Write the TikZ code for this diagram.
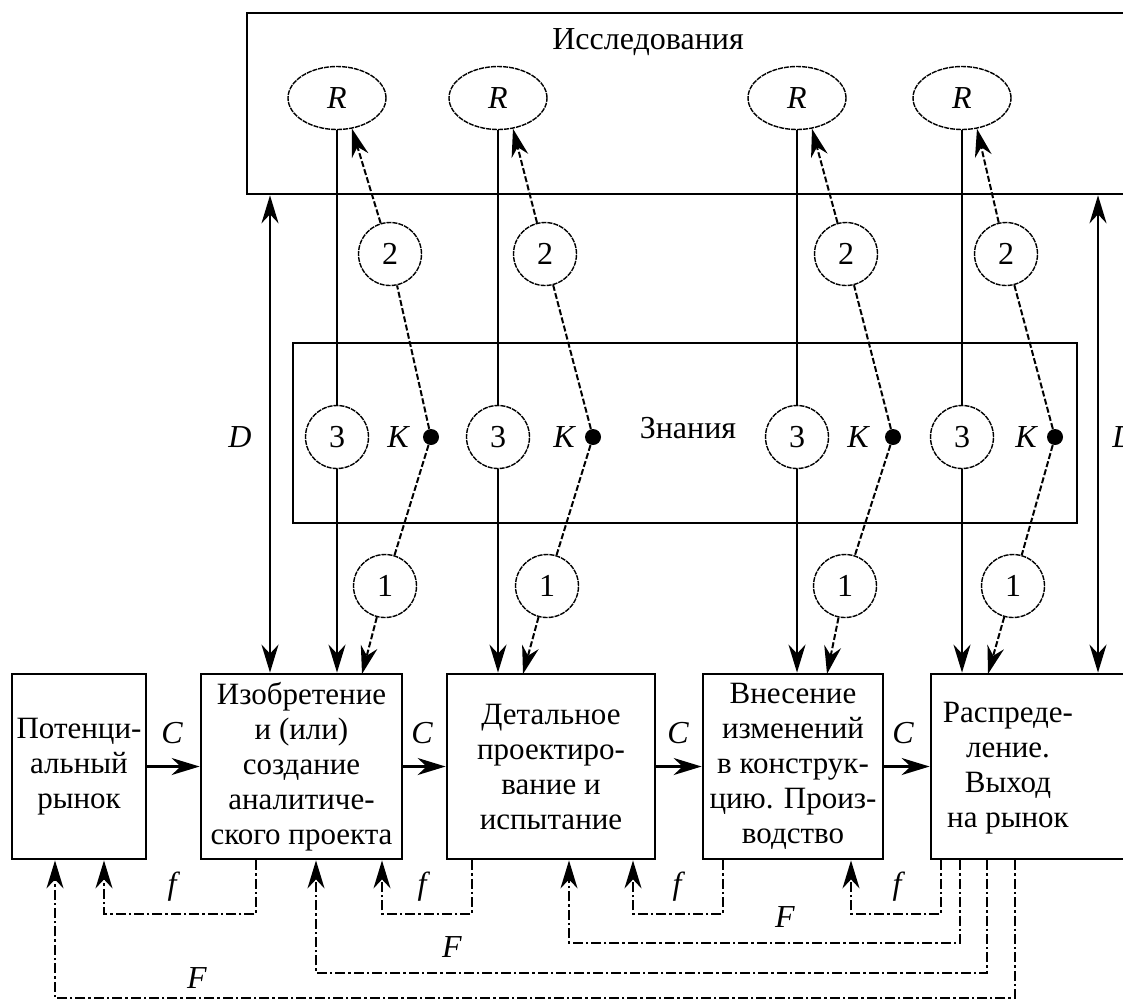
\documentclass[tikz,border=0pt]{standalone}
\usepackage{fontspec}
\setmainfont{Liberation Serif}
\usetikzlibrary{arrows.meta,shapes.geometric}
\begin{document}
\begin{tikzpicture}[x=0.5pt,y=-0.5pt,
  >={Stealth[length=14pt,width=8.5pt,inset=4.5pt]},
  every node/.style={inner sep=0pt},
  stage/.style={draw,line width=1.4pt,minimum height=92.5pt,align=center,font=\fontsize{15.5}{17.5}\selectfont},
  stagetext/.style={align=center,font=\fontsize{15.5}{17.5}\selectfont},
  area/.style={draw,line width=1.3pt},
  rnode/.style={ellipse,draw,line width=0.7pt,dash pattern=on 2.5pt off 0.5pt,minimum width=49pt,minimum height=31.5pt,font=\fontsize{16}{18}\selectfont\itshape},
  num/.style={circle,draw,line width=0.7pt,dash pattern=on 2.5pt off 0.5pt,minimum size=31.5pt,font=\fontsize{16}{18}\selectfont},
  kdot/.style={circle,fill,minimum size=8pt},
  lbl/.style={font=\fontsize{16}{18}\selectfont\itshape},
  ttl/.style={font=\fontsize{16}{18}\selectfont},
  ln/.style={line width=1.2pt},
  dsh/.style={line width=1pt,dash pattern=on 3pt off 1.2pt},
  fb/.style={line width=1.1pt,dash pattern=on 5pt off 1.5pt on 1.2pt off 1.5pt},
]
\useasboundingbox (0,0) rectangle (1123,1003);
\clip (0,0) rectangle (1123,1003);

% areas
\node[area,minimum width=456.5pt,minimum height=90.5pt] (res) at (703.5,103.5) {};
\node[ttl] (restitle) at (648,42) {Исследования};
\node[area,minimum width=392pt,minimum height=90pt] (know) at (685,433) {};
\node[ttl] (knowtitle) at (688,428) {Знания};

% stages
\node[stage,minimum width=67pt] (b1) at (79,766.5) {Потенци-\\альный\\рынок};
\node[stage,minimum width=100.5pt] (b2) at (301.5,766.5) {Изобретение\\и (или)\\создание\\аналитиче-\\ского проекта};
\node[stage,minimum width=104pt] (b3) at (551,766.5) {Детальное\\проектиро-\\вание и\\испытание};
\node[stage,minimum width=90pt] (b4) at (793,766.5) {Внесение\\изменений\\в конструк-\\цию. Произ-\\водство};
\node[stage,minimum width=114.5pt] (b5) at (1045.5,766.5) {};
\node[stagetext] (t5) at (1008,768) {Распреде-\\ление.\\Выход\\на рынок};

% columns
\foreach \i/\xr/\xk/\xl/\xt/\xo/\bx/\xa in {1/337/431/398/390/385/b2/362, 2/498/593/564/545/547/b3/523, 3/797/893/858/846/845/b4/827, 4/962/1055/1026/1006/1013/b5/988}{
  \node[rnode] (R\i) at (\xr,98) {R};
  \node[num] (two\i) at (\xt,254) {2};
  \node[num] (three\i) at (\xr,437) {3};
  \node[kdot] (K\i) at (\xk,437) {};
  \node[lbl] (Kl\i) at (\xl,437) {K};
  \node[num] (one\i) at (\xo,586) {1};
  \coordinate (tip\i) at (\xa,674);
  \draw[ln] (R\i) -- (three\i);
  \draw[ln,->] (three\i) -- (three\i |- \bx.north);
  \draw[dsh] (K\i) -- (two\i);
  \draw[dsh,->] (two\i) -- (R\i.-64);
  \draw[dsh] (K\i) -- (one\i);
  \draw[dsh,->] (one\i) -- (tip\i);
}

% D links
\coordinate (dL) at (270,437);
\coordinate (dR) at (1098,437);
\draw[ln,<->] (dL |- res.south) -- (dL |- b2.north);
\draw[ln,<->] (dR |- res.south) -- (dR |- b5.north);
\node[lbl] (Dl) at (240,437) {D};
\node[lbl] (Dr) at (1124,437) {D};

% C links
\draw[ln,->] (b1) -- (b2);
\draw[ln,->] (b2) -- (b3);
\draw[ln,->] (b3) -- (b4);
\draw[ln,->] (b4) -- (b5);
\node[lbl] (C1) at (172,733) {C};
\node[lbl] (C2) at (422,733) {C};
\node[lbl] (C3) at (678,733) {C};
\node[lbl] (C4) at (903,733) {C};

% feedback
\foreach \n/\s/\e/\yy/\from/\to in {fa/256/104/914/b2/b1, fb/472/382/914/b3/b2, fc/723/633/914/b4/b3, fd/941/851/914/b5/b4, Fa/960/569/943/b5/b3, Fb/987/316/973/b5/b2, Fc/1015/55/998/b5/b1}{
  \coordinate (s\n) at (\s,0);
  \coordinate (e\n) at (\e,0);
  \coordinate (y\n) at (0,\yy);
  \draw[fb,->] (\from.south -| s\n) -- (s\n |- y\n) -| (\to.south -| e\n);
}
\node[lbl] (f1) at (172,887) {f};
\node[lbl] (f2) at (422,887) {f};
\node[lbl] (f3) at (677,887) {f};
\node[lbl] (f4) at (897,887) {f};
\node[lbl] (F1) at (785,917) {F};
\node[lbl] (F2) at (452,947) {F};
\node[lbl] (F3) at (197,978) {F};
\end{tikzpicture}
\end{document}
